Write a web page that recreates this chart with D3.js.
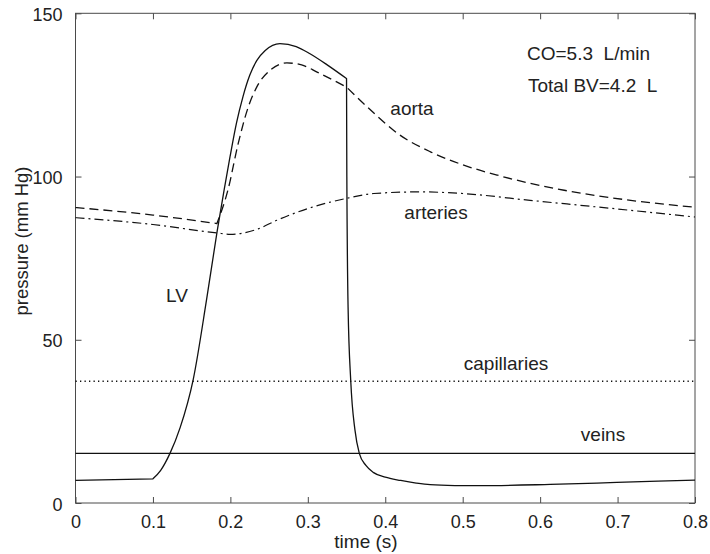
<!DOCTYPE html>
<html>
<head>
<meta charset="utf-8">
<script src="https://cdn.jsdelivr.net/npm/d3@7"></script>
<style>
  body { margin: 0; background: #fff; }
  svg { display: block; }
  text { font-family: "Liberation Sans", Arial, Helvetica, sans-serif; fill: #222; white-space: pre; }
</style>
</head>
<body>
<svg id="chart" width="710" height="554"></svg>
<script>
// ---- data (time in s, pressure in mm Hg) ----
const lvTime     = [0, 0.1, 0.11, 0.122, 0.135, 0.152, 0.1694, 0.1831, 0.192, 0.1995, 0.208, 0.2163, 0.225, 0.234, 0.245, 0.264, 0.285, 0.3028, 0.325, 0.35, 0.3504, 0.352, 0.3554, 0.3609, 0.3665, 0.375, 0.385, 0.4, 0.42, 0.44, 0.458, 0.49, 0.523, 0.613, 0.699, 0.8];
const lvPressure = [6.9, 7.4, 10.0, 15.2, 23, 37.8, 62.5, 83.5, 96, 106, 116.5, 124.5, 131, 135.5, 138.6, 140.7, 139.8, 137.6, 134.2, 130, 100, 60, 37.6, 22.3, 15.2, 11.5, 9.3, 7.9, 6.9, 6.1, 5.6, 5.35, 5.3, 5.7, 6.3, 7.0];
const lvCorners = [0.1, 0.35];

const aortaTime     = [0, 0.1, 0.1826, 0.197, 0.21, 0.222, 0.234, 0.251, 0.273, 0.292, 0.312, 0.35, 0.386, 0.416, 0.459, 0.5, 0.545, 0.631, 0.717, 0.8];
const aortaPressure = [90.5, 88.2, 85.6, 96, 110, 120.5, 127.4, 132.5, 134.8, 134.2, 132, 127.4, 119.3, 113.2, 107.5, 103.6, 100.4, 95.8, 92.7, 90.6];
const aortaCorners = [0.1826, 0.35];

const arteriesTime     = [0, 0.1, 0.183, 0.2, 0.234, 0.26, 0.3, 0.35, 0.385, 0.445, 0.5, 0.587, 0.673, 0.8];
const arteriesPressure = [87.4, 85.3, 82.7, 82.3, 83.8, 86.6, 90.2, 93.3, 94.8, 95.3, 94.8, 92.7, 90.7, 87.6];

const capillariesTime     = [0, 0.2, 0.4, 0.6, 0.8];
const capillariesPressure = [37.3, 37.3, 37.3, 37.3, 37.3];

const veinsTime     = [0, 0.2, 0.4, 0.6, 0.8];
const veinsPressure = [15.2, 15.2, 15.2, 15.2, 15.2];

const xTicks = [0, 0.1, 0.2, 0.3, 0.4, 0.5, 0.6, 0.7, 0.8];
const xTickLabels = ["0", "0.1", "0.2", "0.3", "0.4", "0.5", "0.6", "0.7", "0.8"];
const yTicks = [0, 50, 100, 150];
const yTickLabels = ["0", "50", "100", "150"];

const seriesNames = ["LV", "aorta", "arteries", "capillaries", "veins"];
const annotations = ["CO=5.3  L/min", "Total BV=4.2  L"];
const xTitle = "time (s)";
const yTitle = "pressure (mm Hg)";

// ---- layout ----
const svg = d3.select("#chart");
const L = 75.5, R = 695, T = 13.3, B = 503;
const x = d3.scaleLinear().domain([0, 0.8]).range([L, R]);
const y = d3.scaleLinear().domain([0, 150]).range([B, T]);
const axisColor = "#4a4a4a";
const fsTick = "18px";
const fsLab = "19px";

// box
svg.append("rect").attr("x", L).attr("y", T).attr("width", R - L).attr("height", B - T)
  .attr("fill", "none").attr("stroke", axisColor).attr("stroke-width", 1);

// axes with inward ticks (bottom/left labelled; top/right tick only)
const tl = 6;
const gB = svg.append("g").attr("transform", `translate(0,${B})`)
  .call(d3.axisBottom(x).tickValues(xTicks).tickSize(-tl).tickPadding(tl + 6)
    .tickFormat((d, i) => xTickLabels[i]));
const gT = svg.append("g").attr("transform", `translate(0,${T})`)
  .call(d3.axisTop(x).tickValues(xTicks).tickSize(-tl).tickFormat(""));
const gL = svg.append("g").attr("transform", `translate(${L},0)`)
  .call(d3.axisLeft(y).tickValues(yTicks).tickSize(-tl).tickPadding(tl + 7)
    .tickFormat((d, i) => yTickLabels[i]));
const gR = svg.append("g").attr("transform", `translate(${R},0)`)
  .call(d3.axisRight(y).tickValues(yTicks).tickSize(-tl).tickFormat(""));
[gB, gT, gL, gR].forEach(g => {
  g.select(".domain").remove();
  g.selectAll(".tick line").attr("stroke", axisColor);
  g.selectAll(".tick text").style("font-size", fsTick).attr("fill", "#222")
    .style("font-family", '"Liberation Sans", Arial, sans-serif');
});
gB.selectAll(".tick text").attr("dy", "0.71em");
gL.selectAll(".tick text").attr("dy", "0.4em");

// ---- lines ----
const line = d3.line().x(d => x(d[0])).y(d => y(d[1])).curve(d3.curveMonotoneX);
const zipS = (a, b) => a.map((t, i) => [t, b[i]]);
// split a series into smooth pieces at corner times (corner point shared by both pieces)
function pieces(ts, ps, corners) {
  const pts = zipS(ts, ps), out = [];
  let cur = [];
  pts.forEach(p => {
    cur.push(p);
    if (corners.includes(p[0])) { out.push(cur); cur = [p]; }
  });
  if (cur.length > 1) out.push(cur);
  return out;
}
const plot = svg.append("g");
function draw(ts, ps, corners, dash, w) {
  // join pieces into one path so dash pattern stays continuous
  const d = pieces(ts, ps, corners).map((pc, i) => {
    const s = line(pc);
    return i === 0 ? s : s.replace(/^M[^A-Za-z]*/, "L" + s.match(/^M([^A-Za-z]*)/)[1]);
  }).join("");
  plot.append("path").attr("d", d)
    .attr("fill", "none").attr("stroke", "#111").attr("stroke-width", w)
    .attr("stroke-dasharray", dash).attr("stroke-linejoin", "miter");
}
draw(veinsTime, veinsPressure, [], null, 1.3);
draw(capillariesTime, capillariesPressure, [], "1.3,3.2", 1.3);
draw(arteriesTime, arteriesPressure, [], "9,4,2,4", 1.2);
draw(aortaTime, aortaPressure, aortaCorners, "9,5", 1.3);
draw(lvTime, lvPressure, lvCorners, null, 1.3);

// ---- labels ----
const lab = (txt, px, py, anchor) => svg.append("text").text(txt)
  .attr("x", px).attr("y", py).attr("text-anchor", anchor || "middle").style("font-size", fsLab);
lab(seriesNames[0], 177, 302);
lab(seriesNames[1], 412, 115);
lab(seriesNames[2], 436, 219);
lab(seriesNames[3], 506, 370);
lab(seriesNames[4], 603, 441);
lab(annotations[0], 527, 60, "start");
lab(annotations[1], 528, 92, "start");

// axis titles
lab(xTitle, 366, 548);
svg.append("text").text(yTitle).attr("text-anchor", "middle")
  .attr("transform", "translate(28,241) rotate(-90)").style("font-size", "18.5px");
</script>
</body>
</html>
